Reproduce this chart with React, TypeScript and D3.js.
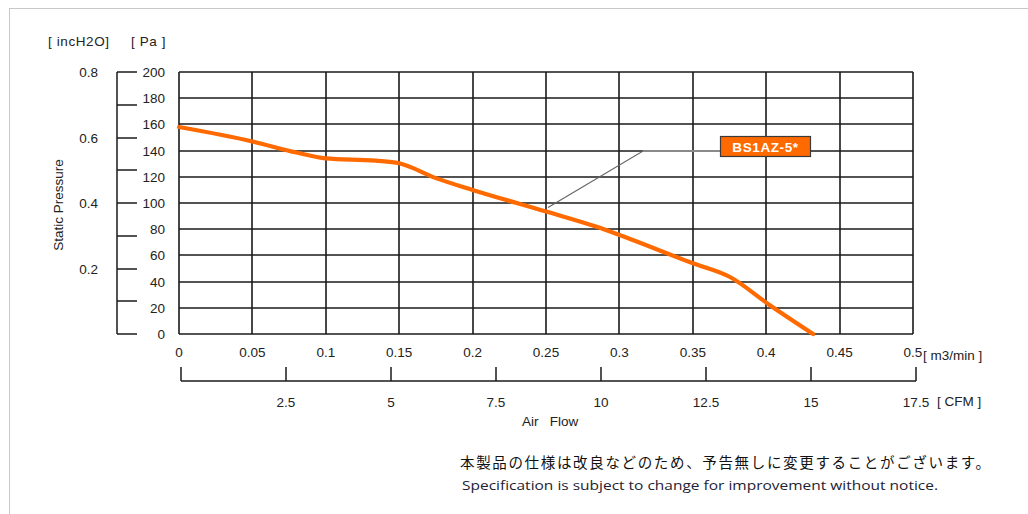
import React from 'react';
import * as d3 from 'd3';

// m3/min vs Pa
const flowM3 = [0, 0.05, 0.08, 0.1, 0.134, 0.15, 0.175, 0.2, 0.25, 0.284, 0.3, 0.35, 0.375, 0.4025, 0.432];
const pressurePa = [158, 147, 138.5, 134, 132.3, 130.3, 119, 110, 93.5, 82, 75.6, 54, 43.7, 22, 0];

const m3Ticks = [0, 0.05, 0.1, 0.15, 0.2, 0.25, 0.3, 0.35, 0.4, 0.45, 0.5];
const paTicks = [0, 20, 40, 60, 80, 100, 120, 140, 160, 180, 200];
const inchTicks = [0, 0.1, 0.2, 0.3, 0.4, 0.5, 0.6, 0.7, 0.8];
const inchLabels = [0.2, 0.4, 0.6, 0.8];
const cfmTicks = [0, 2.5, 5, 7.5, 10, 12.5, 15, 17.5];
const cfmLabels = [2.5, 5, 7.5, 10, 12.5, 15, 17.5];

const seriesName = 'BS1AZ-5*';
const noteJa = '本製品の仕様は改良などのため、予告無しに変更することがございます。';
const noteEn = 'Specification is subject to change for improvement without notice.';

const W = 1028;
const H = 514;
const font = "'Liberation Sans', Arial, sans-serif";

export default function App() {
  const x = d3.scaleLinear().domain([0, 0.5]).range([179, 913]);
  const y = d3.scaleLinear().domain([0, 200]).range([334, 72]);
  const yIn = d3.scaleLinear().domain([0, 0.8]).range([334, 72]);
  const xCfm = d3.scaleLinear().domain([0, 17.5]).range([181, 916]);
  const r = (v: number) => Math.round(v);

  const pts = flowM3.map((f, i) => [f, pressurePa[i]] as [number, number]);
  const line = d3
    .line<[number, number]>()
    .x(d => x(d[0]))
    .y(d => y(d[1]))
    .curve(d3.curveMonotoneX);

  const cfmY = 381;
  const gridColor = '#1a1a1a';
  const txt = '#222';

  // leader anchor on the curve at 0.25 m3/min
  const leadX = x(0.25);
  const leadY = y(pressurePa[flowM3.indexOf(0.25)]);
  const labelY = r(y(140));

  return (
    <svg
      width={W}
      height={H}
      style={{ position: 'absolute', left: 0, top: 0, background: '#fff' }}
    >
      {/* outer frame */}
      <line x1={9} x2={W} y1={8.5} y2={8.5} stroke="#c8c8c8" />
      <line x1={9.5} x2={9.5} y1={8} y2={H} stroke="#c8c8c8" />

      {/* grid */}
      <g stroke={gridColor} strokeWidth={1.6}>
        {m3Ticks.map(t => (
          <line key={'v' + t} x1={r(x(t))} x2={r(x(t))} y1={y(0)} y2={y(200)} />
        ))}
        {paTicks.map(t => (
          <line key={'h' + t} x1={x(0)} x2={x(0.5)} y1={r(y(t))} y2={r(y(t))} />
        ))}
      </g>

      {/* inch bracket axis */}
      <g stroke={gridColor} strokeWidth={1.5}>
        <line x1={117} x2={117} y1={yIn(0)} y2={yIn(0.8)} />
        {inchTicks.map(t => (
          <line key={'i' + t} x1={117} x2={137} y1={r(yIn(t))} y2={r(yIn(t))} />
        ))}
      </g>

      <g fontFamily={font} fontSize={13.5} fill={txt}>
        {inchLabels.map(t => (
          <text key={'il' + t} x={98} y={yIn(t) + 5} textAnchor="end">
            {t}
          </text>
        ))}
        {paTicks.map(t => (
          <text key={'pl' + t} x={165} y={y(t) + 5} textAnchor="end">
            {t}
          </text>
        ))}
        <text x={48} y={46} letterSpacing={0.6}>[ incH2O]</text>
        <text x={131} y={46} letterSpacing={0.6}>[ Pa ]</text>
        <text transform="translate(63,205) rotate(-90)" textAnchor="middle">
          Static Pressure
        </text>

        {m3Ticks.map(t => (
          <text key={'ml' + t} x={x(t)} y={357} textAnchor="middle">
            {t}
          </text>
        ))}
        <text x={923} y={360}>[ m3/min ]</text>

        {cfmLabels.map(t => (
          <text key={'cl' + t} x={xCfm(t)} y={407} textAnchor="middle">
            {t}
          </text>
        ))}
        <text x={937} y={406}>[ CFM ]</text>
        <text x={522} y={426} xmlSpace="preserve">Air   Flow</text>
      </g>

      {/* CFM bracket axis */}
      <g stroke={gridColor} strokeWidth={1.5}>
        <line x1={xCfm(0)} x2={xCfm(17.5)} y1={cfmY} y2={cfmY} />
        {cfmTicks.map(t => (
          <line key={'c' + t} x1={r(xCfm(t))} x2={r(xCfm(t))} y1={cfmY} y2={cfmY - 14} />
        ))}
      </g>

      {/* curve */}
      <path d={line(pts) ?? ''} fill="none" stroke="#ff6a00" strokeWidth={4.2} strokeLinecap="round" />

      {/* leader + label */}
      <polyline
        points={`${leadX + 2},${leadY - 4} 643,${labelY} 721,${labelY}`}
        fill="none"
        stroke="#666"
        strokeWidth={1.2}
      />
      <line x1={643} x2={721} y1={labelY} y2={labelY} stroke="#8a8a8a" strokeWidth={1.8} />
      <rect x={720.5} y={136.5} width={90} height={20} fill="#ff6a00" stroke="#3a3a3a" strokeWidth={1.2} />
      <text
        x={765.5}
        y={151.5}
        textAnchor="middle"
        fontFamily={font}
        fontSize={13.5}
        fontWeight="bold"
        fill="#fff"
        letterSpacing={0.6}
      >
        {seriesName}
      </text>

      {/* notes */}
      <text
        x={460}
        y={468}
        fontFamily="'Noto Sans CJK JP', sans-serif"
        fontSize={14.5}
        fill="#111"
        textLength={530}
        lengthAdjust="spacing"
      >
        {noteJa}
      </text>
      <text
        x={462}
        y={490}
        fontFamily="'Open Sans', 'Noto Sans', sans-serif"
        fontSize={12.5}
        fill="#222233"
        textLength={476}
        lengthAdjust="spacingAndGlyphs"
      >
        {noteEn}
      </text>
    </svg>
  );
}
